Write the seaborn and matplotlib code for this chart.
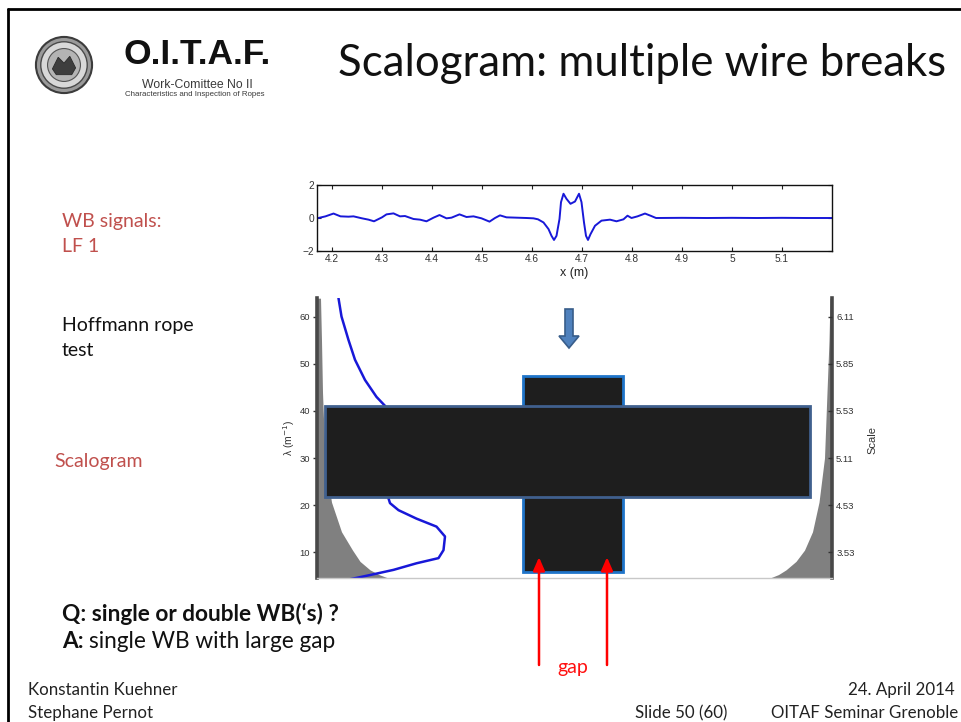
import matplotlib
matplotlib.use("Agg")
import matplotlib.pyplot as plt
from matplotlib.patches import Rectangle, Polygon, Circle
import seaborn as sns

# ---------------- data ----------------
# wire-break signal LF 1 (top panel)
sig_x = [4.170, 4.187, 4.203, 4.217, 4.233, 4.243, 4.260, 4.273, 4.284, 4.300,
         4.309, 4.323, 4.336, 4.346, 4.363, 4.376, 4.389, 4.403, 4.415, 4.429,
         4.439, 4.455, 4.469, 4.483, 4.499, 4.515, 4.526, 4.536, 4.549, 4.569,
         4.589, 4.603, 4.612, 4.623, 4.633, 4.639, 4.644, 4.649, 4.655, 4.658,
         4.663, 4.669, 4.677, 4.686, 4.694, 4.699, 4.704, 4.708, 4.712, 4.717,
         4.726, 4.739, 4.756, 4.769, 4.783, 4.791, 4.799, 4.811, 4.826, 4.837,
         4.848, 4.900, 4.950, 5.000, 5.050, 5.100, 5.150, 5.200]
sig_y = [-0.02, 0.10, 0.27, 0.10, 0.08, 0.10, -0.02, -0.10, -0.20, 0.04,
         0.22, 0.28, 0.10, 0.12, -0.06, -0.10, -0.20, 0.02, 0.18, -0.02,
         0.02, 0.22, 0.06, 0.10, -0.02, -0.22, 0.00, 0.16, 0.04, 0.02,
         0.00, -0.02, -0.08, -0.27, -0.67, -1.08, -1.33, -1.08, -0.06, 0.96,
         1.47, 1.16, 0.86, 1.00, 1.47, 0.96, -0.27, -1.08, -1.33, -0.98,
         -0.47, -0.16, -0.10, -0.20, -0.08, 0.14, 0.00, 0.10, 0.27, 0.14,
         0.00, 0.01, 0.00, 0.01, 0.00, 0.01, 0.00, 0.00]
top_xticks = [4.2, 4.3, 4.4, 4.5, 4.6, 4.7, 4.8, 4.9, 5.0, 5.1]
top_xticklabels = ["4.2", "4.3", "4.4", "4.5", "4.6", "4.7", "4.8", "4.9", "5", "5.1"]
top_yticks = [-2, 0, 2]

# scalogram axes
lam_ticks = [10, 20, 30, 40, 50, 60]
scale_ticklabels = ["3.53", "4.53", "5.11", "5.53", "5.85", "6.11"]

# energy profile over wavenumber
prof_x = [4.213, 4.219, 4.233, 4.246, 4.266, 4.289, 4.306, 4.318, 4.322, 4.318,
          4.313, 4.316, 4.333, 4.369, 4.409, 4.426, 4.423, 4.413, 4.369, 4.323,
          4.276, 4.236]
prof_lam = [64.0, 60.1, 55.1, 50.9, 46.6, 43.0, 41.1, 37.0, 30.0, 24.0,
            21.4, 20.4, 18.9, 17.1, 15.4, 13.3, 10.4, 8.7, 7.6, 6.2,
            5.1, 4.2]

# cone of influence
coi_lam = [4.47, 5.2, 6.2, 8.0, 10.4, 14.3, 20.6, 30.0, 44.0, 55.0, 64.0]
coi_left = [4.312, 4.294, 4.276, 4.256, 4.241, 4.219, 4.199, 4.186, 4.181, 4.179, 4.177]
coi_right = [5.076, 5.093, 5.108, 5.128, 5.145, 5.161, 5.174, 5.185, 5.190, 5.194, 5.196]

# masked regions of the scalogram (x in m, lambda in 1/m)
mask_h = (4.186, 5.156, 21.7, 41.1)
mask_v = (4.582, 4.782, 5.74, 47.45)
gap_x = [4.614, 4.750]

XLIM = (4.17, 5.20)
LAMLIM = (4.47, 64.04)

# ---------------- figure ----------------
sns.set_style("white")
plt.rcParams["font.family"] = ["Lato", "DejaVu Sans"]

W, H = 961, 722
fig = plt.figure(figsize=(W / 100, H / 100), dpi=100)
fig.patch.set_facecolor("white")


def fx(px):
    return px / W


def fy(py):
    return 1 - py / H


def box(l, t, r, b):
    return [fx(l), fy(b), (r - l) / W, (b - t) / H]


SANS = ["Liberation Sans", "DejaVu Sans"]
TICKFONT = dict(family=SANS, size=7.3, color="#333333")

# ---- top panel: signal ----
ax1 = fig.add_axes(box(317, 185, 832, 251))
sns.lineplot(x=sig_x, y=sig_y, ax=ax1, color="#1818d8", linewidth=1.4,
             sort=False, estimator=None)
ax1.set_xlim(*XLIM)
ax1.set_ylim(-2, 2)
ax1.set_xticks(top_xticks)
ax1.set_xticklabels(top_xticklabels)
ax1.set_yticks(top_yticks)
for lab in ax1.get_xticklabels() + ax1.get_yticklabels():
    lab.set_fontfamily(TICKFONT["family"])
    lab.set_fontsize(TICKFONT["size"])
    lab.set_color(TICKFONT["color"])
ax1.tick_params(direction="in", length=3, width=0.8, top=True, right=True,
                bottom=True, left=True, pad=2, color="#222222")
for s in ax1.spines.values():
    s.set_color("#111111")
    s.set_linewidth(1.0)
    s.set_visible(True)
ax1.set_xlabel("")
ax1.set_ylabel("")
fig.text(fx(574), fy(273), "x (m)", ha="center", va="center",
         family=SANS, fontsize=9, color="#222222")

# ---- scalogram panel ----
ax2 = fig.add_axes(box(317, 298, 832, 578))
ax2.fill_betweenx(coi_lam, XLIM[0], coi_left, color="#808080", lw=0, zorder=1)
ax2.fill_betweenx(coi_lam, coi_right, XLIM[1], color="#808080", lw=0, zorder=1)
sns.lineplot(x=prof_x, y=prof_lam, ax=ax2, color="#1818d8", linewidth=1.8,
             sort=False, estimator=None, zorder=2)
ax2.set_xlim(*XLIM)
ax2.set_ylim(*LAMLIM)
ax2.set_xticks([])
ax2.set_yticks(lam_ticks)
ax2.set_xlabel("")
ax2.set_ylabel("")
for lab in ax2.get_yticklabels():
    lab.set_fontfamily(TICKFONT["family"])
    lab.set_fontsize(6.8)
    lab.set_color(TICKFONT["color"])
ax2.tick_params(axis="y", direction="out", length=3, width=1, pad=2, color="#333333")
ax2.spines["top"].set_visible(False)
ax2.spines["bottom"].set_color("#c8c8c8")
ax2.spines["bottom"].set_linewidth(1.0)
for side in ("left", "right"):
    ax2.spines[side].set_color("#484848")
    ax2.spines[side].set_linewidth(2.6)

ax2r = ax2.twinx()
ax2r.set_ylim(*LAMLIM)
ax2r.set_yticks(lam_ticks)
ax2r.set_yticklabels(scale_ticklabels)
for lab in ax2r.get_yticklabels():
    lab.set_fontfamily(TICKFONT["family"])
    lab.set_fontsize(6.8)
    lab.set_color(TICKFONT["color"])
ax2r.tick_params(axis="y", direction="in", length=3, width=1, pad=3, color="#333333")
for s in ax2r.spines.values():
    s.set_visible(False)
ax2r.grid(False)

fig.text(fx(289), fy(438), "\u03bb (m$^{-1}$)", rotation=90, ha="center", va="center",
         family=SANS, fontsize=7.5, color="#333333")
fig.text(fx(872), fy(440), "Scale", rotation=90, ha="center", va="center",
         family=SANS, fontsize=8, color="#333333")

# masked rectangles
x0, x1, y0, y1 = mask_v
ax2.add_patch(Rectangle((x0, y0), x1 - x0, y1 - y0, facecolor="#1e1e1e",
                        edgecolor="#1f74c9", linewidth=2, zorder=5))
x0, x1, y0, y1 = mask_h
ax2.add_patch(Rectangle((x0, y0), x1 - x0, y1 - y0, facecolor="#1e1e1e",
                        edgecolor="#40608e", linewidth=2, zorder=6))

# red "gap" arrows from below the panel up into the scalogram
for gx in gap_x:
    ax2.annotate("", xy=(gx, 8.9), xycoords="data",
                 xytext=(gx, H - 665), textcoords=("data", "figure pixels"),
                 arrowprops=dict(arrowstyle="-|>,head_length=0.8,head_width=0.35",
                                 color="#ff0000", lw=1.8, shrinkA=0, shrinkB=0),
                 annotation_clip=False, zorder=8)
fig.text(fx(573), fy(667), "gap", ha="center", va="center", fontsize=14, color="#ff1010")

# blue down arrow between panels
arrow_px = [(565, 309), (573, 309), (573, 336), (579, 336), (569, 348), (559, 336), (565, 336)]
fig.patches.append(Polygon([(fx(px), fy(py)) for px, py in arrow_px], closed=True,
                           transform=fig.transFigure, facecolor="#4f81bd",
                           edgecolor="#385d8a", linewidth=1.2, figure=fig))

# ---------------- slide frame and header ----------------
fig.add_artist(plt.Line2D([fx(8), fx(961)], [fy(9), fy(9)], color="black", lw=2))
fig.add_artist(plt.Line2D([fx(8), fx(8)], [fy(9), fy(722)], color="black", lw=2))

fig.text(fx(338), fy(64), "Scalogram: multiple wire breaks", ha="left", va="center",
         fontsize=31.5, color="#111111")

# logo emblem
axl = fig.add_axes(box(34, 34, 94, 96))
axl.set_xlim(-31, 31)
axl.set_ylim(-32, 32)
axl.set_aspect("equal")
axl.axis("off")
axl.add_patch(Circle((0, 0), 29, facecolor="#9a9a9a", edgecolor="#3c3c3c", lw=1.5))
axl.add_patch(Circle((0, 0), 24, facecolor="#d8d8d8", edgecolor="#4a4a4a", lw=1.0))
axl.add_patch(Circle((0, 0), 17, facecolor="#b4b4b4", edgecolor="#555555", lw=0.8))
axl.add_patch(Polygon([(-12, -4), (-6, 8), (0, 2), (6, 9), (12, -3), (8, -10), (-8, -10)],
                      closed=True, facecolor="#3e3e3e", edgecolor="#2a2a2a", lw=0.6))

fig.text(fx(197), fy(55), "O.I.T.A.F.", ha="center", va="center", fontsize=25.5,
         fontweight="bold", family=SANS, color="#111111")
fig.text(fx(197), fy(85), "Work-Comittee No II", ha="center", va="center", fontsize=8.8,
         family=SANS, color="#3a3a3a")
fig.text(fx(195), fy(95), "Characteristics and Inspection of Ropes", ha="center", va="center",
         fontsize=5.7, family=SANS, color="#3a3a3a")

# ---------------- side notes ----------------
RED = "#c0504d"
NOTE = 14
fig.text(fx(62), fy(222), "WB signals:", ha="left", va="center", fontsize=NOTE, color=RED)
fig.text(fx(62), fy(247), "LF 1", ha="left", va="center", fontsize=NOTE, color=RED)
fig.text(fx(62), fy(325), "Hoffmann rope", ha="left", va="center", fontsize=NOTE, color="#111111")
fig.text(fx(62), fy(350), "test", ha="left", va="center", fontsize=NOTE, color="#111111")
fig.text(fx(54), fy(462), "Scalogram", ha="left", va="center", fontsize=NOTE, color=RED)

QA = 16.3
fig.text(fx(62), fy(614), "Q: single or double WB(\u2018s) ?", ha="left", va="center",
         fontsize=QA, fontweight="bold", color="#111111")
a_lab = fig.text(fx(62), fy(642), "A:", ha="left", va="center", fontsize=QA,
                 fontweight="bold", color="#111111")
fig.canvas.draw()
a_ext = a_lab.get_window_extent()
fig.text(a_ext.x1 / W + fx(5), fy(642), "single WB with large gap", ha="left", va="center",
         fontsize=QA, color="#111111")

# footer
FOOT = 12.2
fig.text(fx(28), fy(690), "Konstantin Kuehner", ha="left", va="center", fontsize=FOOT, color="#222222")
fig.text(fx(28), fy(713), "Stephane Pernot", ha="left", va="center", fontsize=FOOT, color="#222222")
fig.text(fx(727), fy(713), "Slide 50 (60)", ha="right", va="center", fontsize=FOOT, color="#222222")
fig.text(fx(955), fy(690), "24. April 2014", ha="right", va="center", fontsize=FOOT, color="#222222")
fig.text(fx(958), fy(713), "OITAF Seminar Grenoble", ha="right", va="center", fontsize=FOOT, color="#222222")

fig.savefig("out.png", dpi=100, facecolor="white")
